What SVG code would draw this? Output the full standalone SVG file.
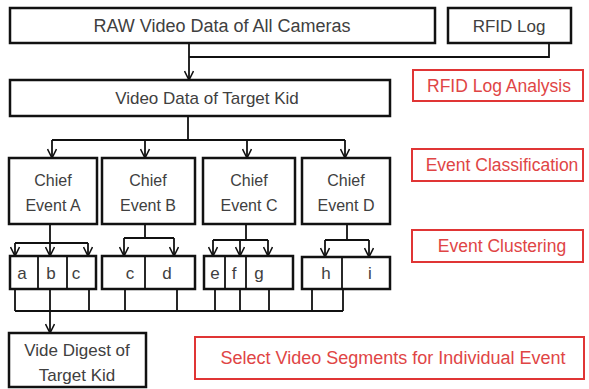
<svg xmlns="http://www.w3.org/2000/svg" width="589" height="389" viewBox="0 0 589 389">
<defs>
<style>
.box{fill:#fff;stroke:#111;stroke-width:2.5}
.rbox{fill:#fff;stroke:#e03535;stroke-width:2}
.t{font-family:"Liberation Sans",Arial,sans-serif;font-size:17px;fill:#404040;text-anchor:middle}
.rt{font-family:"Liberation Sans",Arial,sans-serif;font-size:17.5px;fill:#e04545;text-anchor:middle}
.big{font-size:18px}
.sm{font-size:16px}
.c{fill:none;stroke:#111;stroke-width:1.8}
.div{stroke:#111;stroke-width:1.8}
</style>
<marker id="ah" markerWidth="12" markerHeight="10" refX="10" refY="5" orient="auto" markerUnits="userSpaceOnUse">
<path d="M1,0.5 L10,5 L1,9.5" fill="none" stroke="#111" stroke-width="1.6"/>
</marker>
</defs>
<rect width="589" height="389" fill="#fff"/>

<g id="connectors">
<path class="c" d="M189,43 V80" marker-end="url(#ah)"/>
<path class="c" d="M549,43 V57 H189"/>
<path class="c" d="M188,116 V140 M52,140 H345"/>
<path class="c" d="M52,140 V158" marker-end="url(#ah)"/>
<path class="c" d="M145,140 V158" marker-end="url(#ah)"/>
<path class="c" d="M247,140 V158" marker-end="url(#ah)"/>
<path class="c" d="M345,140 V158" marker-end="url(#ah)"/>
<path class="c" d="M50,224 V243 M15,243 H88"/>
<path class="c" d="M15,243 V256" marker-end="url(#ah)"/>
<path class="c" d="M50,243 V256" marker-end="url(#ah)"/>
<path class="c" d="M88,243 V256" marker-end="url(#ah)"/>
<path class="c" d="M145,224 V238 M124,238 H174"/>
<path class="c" d="M124,238 V256" marker-end="url(#ah)"/>
<path class="c" d="M174,238 V256" marker-end="url(#ah)"/>
<path class="c" d="M246,224 V240 M213,240 H268"/>
<path class="c" d="M213,240 V256" marker-end="url(#ah)"/>
<path class="c" d="M240,240 V256" marker-end="url(#ah)"/>
<path class="c" d="M268,240 V256" marker-end="url(#ah)"/>
<path class="c" d="M347,224 V240 M325,240 H369"/>
<path class="c" d="M325,240 V257" marker-end="url(#ah)"/>
<path class="c" d="M369,240 V257" marker-end="url(#ah)"/>
<path class="c" d="M15,289 V311 M50,289 V311 M89,289 V311 M125,289 V311 M177,289 V311 M215,289 V311 M240,289 V311 M269,289 V311 M312,289 V311 M343,289 V311 M15,311 H343"/>
<path class="c" d="M50,311 V333" marker-end="url(#ah)"/>
</g>

<g id="raw"><rect class="box" x="10" y="8" width="425" height="35"/><text class="t big" x="222" y="32">RAW Video Data of All Cameras</text></g>
<g id="rfidlog"><rect class="box" x="448" y="8" width="123" height="35"/><text class="t" x="509" y="32">RFID Log</text></g>
<g id="target"><rect class="box" x="10" y="80" width="380" height="36"/><text class="t" x="207" y="104">Video Data of Target Kid</text></g>
<g id="rfidanalysis"><rect class="rbox" x="413" y="70" width="170" height="31"/><text class="rt" x="499" y="92">RFID Log Analysis</text></g>

<g id="chiefA"><rect class="box" x="9" y="158" width="88" height="66"/><text class="t sm" x="53" y="186">Chief</text><text class="t sm" x="53" y="211">Event A</text></g>
<g id="chiefB"><rect class="box" x="102" y="158" width="93" height="66"/><text class="t sm" x="148" y="186">Chief</text><text class="t sm" x="148" y="211">Event B</text></g>
<g id="chiefC"><rect class="box" x="203" y="158" width="92" height="66"/><text class="t sm" x="249" y="186">Chief</text><text class="t sm" x="249" y="211">Event C</text></g>
<g id="chiefD"><rect class="box" x="302" y="158" width="88" height="66"/><text class="t sm" x="346" y="186">Chief</text><text class="t sm" x="346" y="211">Event D</text></g>
<g id="classification"><rect class="rbox" x="412" y="149" width="171" height="32"/><text class="rt" x="502" y="171">Event Classification</text></g>

<g id="abc"><rect class="box" x="10" y="256" width="86" height="33"/><line class="div" x1="38" y1="256" x2="38" y2="289"/><line class="div" x1="67" y1="256" x2="67" y2="289"/><text class="t" x="22" y="279">a</text><text class="t" x="51" y="279">b</text><text class="t" x="76" y="279">c</text></g>
<g id="cd"><rect class="box" x="102" y="256" width="93" height="33"/><line class="div" x1="145" y1="256" x2="145" y2="289"/><text class="t" x="130" y="279">c</text><text class="t" x="167" y="279">d</text></g>
<g id="efg"><rect class="box" x="204" y="256" width="89" height="33"/><line class="div" x1="225" y1="256" x2="225" y2="289"/><line class="div" x1="246" y1="256" x2="246" y2="289"/><text class="t" x="215" y="279">e</text><text class="t" x="234" y="279">f</text><text class="t" x="259" y="279">g</text></g>
<g id="hi"><rect class="box" x="302" y="257" width="88" height="32"/><line class="div" x1="342" y1="257" x2="342" y2="289"/><text class="t" x="326" y="279">h</text><text class="t" x="370" y="279">i</text></g>
<g id="clustering"><rect class="rbox" x="412" y="230" width="171" height="32"/><text class="rt" x="502" y="252">Event Clustering</text></g>

<g id="digest"><rect class="box" x="9" y="333" width="137" height="54"/><text class="t" x="77" y="356">Vide Digest of</text><text class="t" x="77" y="381">Target Kid</text></g>
<g id="select"><rect class="rbox" x="195" y="337" width="389" height="42"/><text class="rt big" x="393" y="364">Select Video Segments for Individual Event</text></g>
</svg>
